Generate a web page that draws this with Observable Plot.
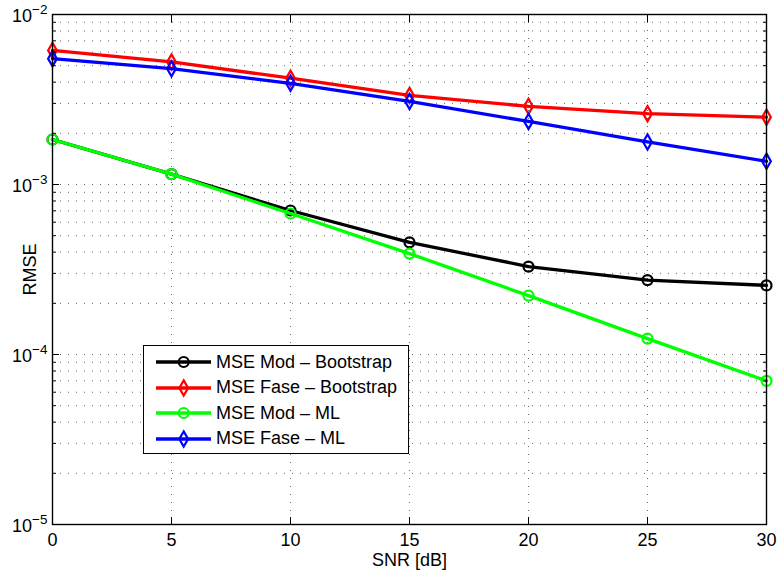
<!DOCTYPE html>
<html><head><meta charset="utf-8">
<script src="https://cdn.jsdelivr.net/npm/d3@7"></script>
<script src="https://cdn.jsdelivr.net/npm/@observablehq/plot@0.6"></script>
<style>
body{margin:0;background:#fff;font-family:"Liberation Sans",Arial,sans-serif;}
#wrap{position:relative;width:778px;height:573px;}
#legend{position:absolute;left:143px;top:345px;width:264px;height:107px;border:1.5px solid #000;background:#fff;}
.row{position:absolute;left:0;height:26px;display:flex;align-items:center;}
.row svg{display:block}
.row span{font-size:18px;color:#000;margin-left:5px;white-space:nowrap}
</style></head><body><div id="wrap"><div id="chart"></div><div id="legend"></div></div>
<script>
// ---- data ----
const snr = [0, 5, 10, 15, 20, 25, 30];
const seriesNames = ["MSE Mod – Bootstrap", "MSE Fase – Bootstrap", "MSE Mod – ML", "MSE Fase – ML"];
const modBootstrap  = [1.84e-3, 1.15e-3, 7.03e-4, 4.57e-4, 3.29e-4, 2.74e-4, 2.55e-4];
const faseBootstrap = [6.15e-3, 5.26e-3, 4.22e-3, 3.34e-3, 2.88e-3, 2.61e-3, 2.49e-3];
const modML         = [1.84e-3, 1.15e-3, 6.75e-4, 3.92e-4, 2.22e-4, 1.24e-4, 7.0e-5];
const faseML        = [5.50e-3, 4.80e-3, 3.94e-3, 3.08e-3, 2.35e-3, 1.78e-3, 1.37e-3];
const xTicks = [0, 5, 10, 15, 20, 25, 30];
const yMajor = [1e-5, 1e-4, 1e-3, 1e-2];
const yExp = ["−5", "−4", "−3", "−2"];
const xLabel = "SNR [dB]";
const yLabel = "RMSE";

// ---- styles ----
const styles = [
  {color: "#000000", symbol: "circle", r: 5},
  {color: "#ff0000", symbol: "diamond", r: 4.6},
  {color: "#00ff00", symbol: "circle", r: 5},
  {color: "#0000ff", symbol: "diamond", r: 4.6}
];
const seriesValues = [modBootstrap, faseBootstrap, modML, faseML];

const yMinor = [];
for (let i = 0; i < yMajor.length - 1; i++) for (let m = 2; m <= 9; m++) yMinor.push(+(m * yMajor[i]).toPrecision(3));
const yGrid = [...yMinor, ...yMajor.slice(1, -1)];
const xGrid = xTicks.slice(1, -1);

const marks = [
  Plot.gridX(xGrid, {stroke: "#000", strokeOpacity: 0.6, strokeDasharray: "1,7"}),
  Plot.gridY(yGrid, {stroke: "#000", strokeOpacity: 0.6, strokeDasharray: "1,7"})
];
seriesValues.forEach((vals, k) => {
  const rows = snr.map((x, i) => ({x, y: vals[i]}));
  marks.push(Plot.line(rows, {x: "x", y: "y", stroke: styles[k].color, strokeWidth: 3.3}));
  marks.push(Plot.dot(rows, {x: "x", y: "y", stroke: styles[k].color, symbol: styles[k].symbol, r: styles[k].r, strokeWidth: 2.2, fill: "none"}));
});
const blank = () => "";
marks.push(
  Plot.frame({stroke: "#000", strokeWidth: 1.4}),
  Plot.axisX({anchor: "bottom", ticks: xTicks, tickSize: -7, tickFormat: blank, label: null}),
  Plot.axisX({anchor: "top", ticks: xTicks, tickSize: -7, tickFormat: blank, label: null}),
  Plot.axisY({anchor: "left", ticks: yMajor, tickSize: -7, tickFormat: blank, label: null}),
  Plot.axisY({anchor: "right", ticks: yMajor, tickSize: -7, tickFormat: blank, label: null}),
  Plot.axisY({anchor: "left", ticks: yMinor, tickSize: -4, tickFormat: blank, label: null}),
  Plot.axisY({anchor: "right", ticks: yMinor, tickSize: -4, tickFormat: blank, label: null}),
  Plot.axisX({anchor: "bottom", ticks: xTicks, tickSize: 0, tickPadding: 9, tickFormat: d => String(d),
    label: xLabel, labelAnchor: "center", labelArrow: "none", labelOffset: 41}),
  Plot.axisY({anchor: "left", ticks: yMajor, tickSize: 0, tickPadding: 5, dy: 2,
    tickFormat: d => "10|" + yExp[yMajor.indexOf(d)],
    label: yLabel, labelAnchor: "center", labelArrow: "none", labelOffset: 29})
);

const chart = Plot.plot({
  width: 778, height: 573,
  marginLeft: 52, marginRight: 12, marginTop: 14, marginBottom: 49,
  style: {fontSize: "18px", fontFamily: "'Liberation Sans', Arial, sans-serif", color: "#000", background: "#fff", overflow: "visible"},
  x: {domain: [0, 30]},
  y: {type: "log", domain: [1e-5, 1e-2]},
  marks
});
document.getElementById("chart").appendChild(chart);

// superscript exponents on y tick labels
d3.select(chart).selectAll("text").each(function() {
  const t = this.textContent;
  if (t.startsWith("10|")) {
    const exp = t.slice(3);
    const sel = d3.select(this);
    sel.text("10");
    sel.append("tspan").attr("dy", "-0.6em").attr("font-size", "13.5px").text(exp);
  }
});

// legend
const legend = document.getElementById("legend");
seriesNames.forEach((name, k) => {
  const st = styles[k];
  const row = document.createElement("div");
  row.className = "row";
  row.style.top = (3 + k * 25.6) + "px";
  const ns = "http://www.w3.org/2000/svg";
  const svg = document.createElementNS(ns, "svg");
  svg.setAttribute("width", 67); svg.setAttribute("height", 26);
  const ln = document.createElementNS(ns, "line");
  ln.setAttribute("x1", 12); ln.setAttribute("x2", 67); ln.setAttribute("y1", 13); ln.setAttribute("y2", 13);
  ln.setAttribute("stroke", st.color); ln.setAttribute("stroke-width", 3.3);
  svg.appendChild(ln);
  const p = document.createElementNS(ns, "path");
  const sym = st.symbol === "circle" ? d3.symbolCircle : d3.symbolDiamond;
  p.setAttribute("d", d3.symbol(sym, Math.PI * st.r * st.r)());
  p.setAttribute("transform", "translate(39.7,13)");
  p.setAttribute("fill", "none"); p.setAttribute("stroke", st.color); p.setAttribute("stroke-width", 2.2);
  svg.appendChild(p);
  row.appendChild(svg);
  const sp = document.createElement("span");
  sp.textContent = name;
  row.appendChild(sp);
  legend.appendChild(row);
});
</script></body></html>
